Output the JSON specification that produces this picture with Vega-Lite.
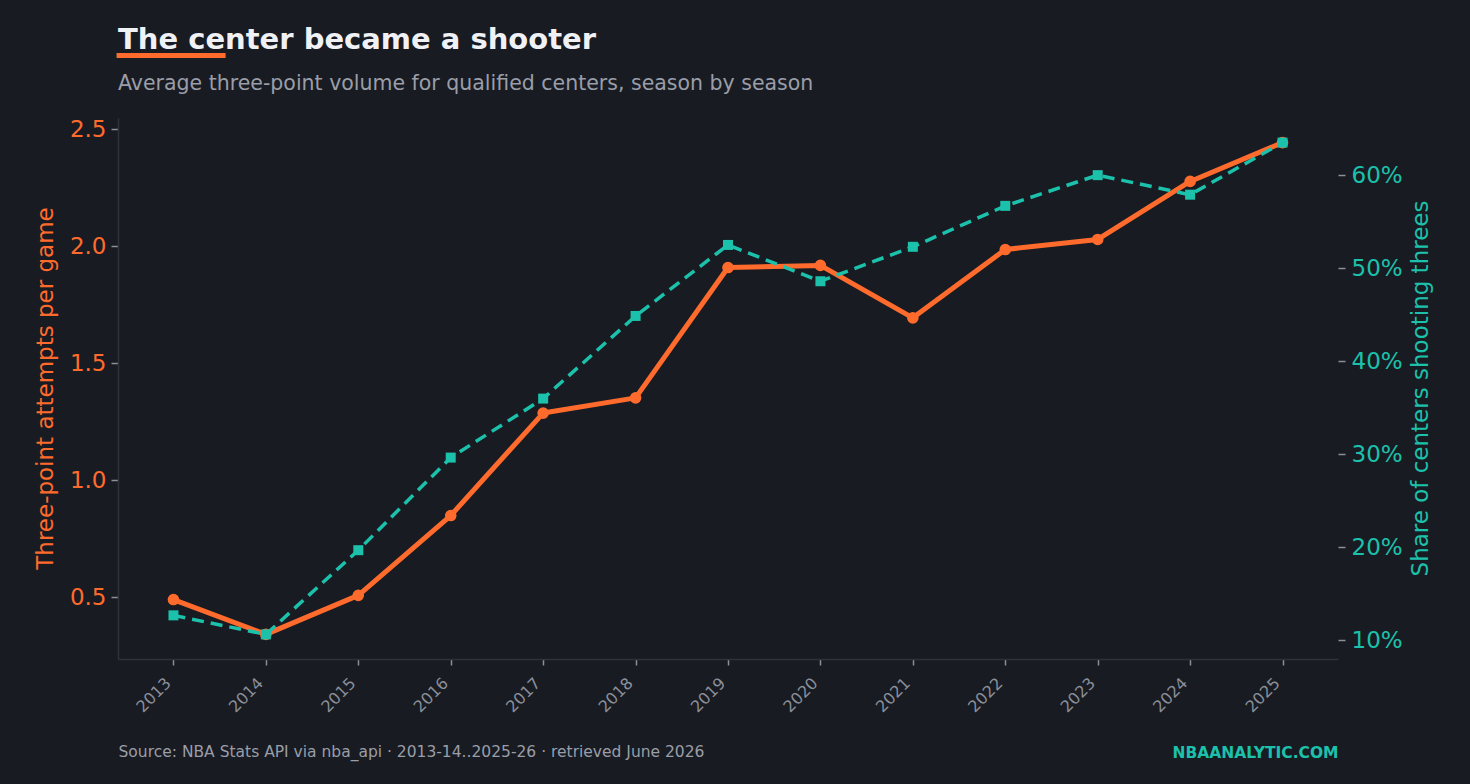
{
  "$schema": "https://vega.github.io/schema/vega-lite/v6.json",
  "width": 1220,
  "height": 541,
  "autosize": {"type": "none"},
  "padding": {"left": 118, "top": 118, "right": 132, "bottom": 125},
  "background": "#181b22",
  "config": {"view": {"stroke": null}, "font": "DejaVu Sans", "axis": {"grid": false}},
  "title": {
    "text": "The center became a shooter",
    "subtitle": "Average three-point volume for qualified centers, season by season",
    "anchor": "start",
    "frame": "group",
    "font": "DejaVu Sans",
    "fontSize": 29,
    "fontWeight": "bold",
    "color": "#f0f1f5",
    "subtitleFont": "DejaVu Sans",
    "subtitleFontSize": 20.5,
    "subtitleColor": "#9a9ea8",
    "subtitlePadding": 19,
    "offset": -53
  },
  "data": {
    "values": [
      {"season": "2013", "fg3a": 0.491, "share": 0.127},
      {"season": "2014", "fg3a": 0.342, "share": 0.1065},
      {"season": "2015", "fg3a": 0.509, "share": 0.197},
      {"season": "2016", "fg3a": 0.85, "share": 0.2965},
      {"season": "2017", "fg3a": 1.288, "share": 0.3599},
      {"season": "2018", "fg3a": 1.353, "share": 0.4487},
      {"season": "2019", "fg3a": 1.91, "share": 0.525},
      {"season": "2020", "fg3a": 1.919, "share": 0.486},
      {"season": "2021", "fg3a": 1.695, "share": 0.523},
      {"season": "2022", "fg3a": 1.987, "share": 0.567},
      {"season": "2023", "fg3a": 2.03, "share": 0.6},
      {"season": "2024", "fg3a": 2.278, "share": 0.579},
      {"season": "2025", "fg3a": 2.444, "share": 0.635}
    ]
  },
  "layer": [
    {
      "encoding": {
        "x": {
          "field": "season",
          "type": "ordinal",
          "scale": {"type": "point", "padding": 0.6},
          "axis": {
            "orient": "bottom",
            "labelAngle": -45,
            "labelAlign": "right",
            "labelBaseline": "bottom",
            "labelColor": "#8b8f99",
            "labelFontSize": 16,
            "labelPadding": 21,
            "tickColor": "#8b8f99",
            "tickSize": 6,
            "tickWidth": 1.5,
            "domainColor": "#2e323b",
            "domainWidth": 1.5,
            "title": "Source: NBA Stats API via nba_api · 2013-14..2025-26 · retrieved June 2026",
            "titleX": 0,
            "titleY": 97,
            "titleAlign": "left",
            "titleAnchor": null,
            "titleBaseline": "alphabetic",
            "titleColor": "#9a9ea8",
            "titleFontSize": 15.5,
            "titleFontWeight": "normal"
          }
        },
        "y": {
          "field": "fg3a",
          "type": "quantitative",
          "scale": {"domain": [0.2369, 2.5491], "nice": false, "zero": false},
          "axis": {
            "orient": "left",
            "values": [0.5, 1.0, 1.5, 2.0, 2.5],
            "format": ".1f",
            "labelColor": "#ff6b2c",
            "labelFontSize": 23,
            "labelPadding": 5,
            "tickColor": "#8b8f99",
            "tickSize": 7,
            "tickWidth": 1.5,
            "domainColor": "#2e323b",
            "domainWidth": 1.5,
            "title": "Three-point attempts per game",
            "titleColor": "#ff6b2c",
            "titleFontSize": 23,
            "titleFontWeight": "normal",
            "titleAngle": -90,
            "titleX": -66,
            "titleY": 270,
            "titleAlign": "center",
            "titleBaseline": "alphabetic"
          }
        }
      },
      "layer": [
        {"mark": {"type": "line", "color": "#ff6b2c", "strokeWidth": 5, "strokeCap": "round", "strokeJoin": "round"}},
        {"mark": {"type": "point", "shape": "circle", "filled": true, "color": "#ff6b2c", "size": 135, "opacity": 1}}
      ]
    },
    {
      "encoding": {
        "y": {
          "field": "share",
          "type": "quantitative",
          "scale": {"domain": [0.0801, 0.6614], "nice": false, "zero": false},
          "axis": {
            "orient": "right",
            "values": [0.1, 0.2, 0.3, 0.4, 0.5, 0.6],
            "format": ".0%",
            "labelColor": "#1cc1ab",
            "labelFontSize": 23,
            "labelPadding": 6,
            "tickColor": "#8b8f99",
            "tickSize": 7,
            "tickWidth": 1.5,
            "domain": false,
            "title": "Share of centers shooting threes",
            "titleColor": "#1cc1ab",
            "titleFontSize": 23,
            "titleFontWeight": "normal",
            "titleAngle": -90,
            "titleX": 89,
            "titleY": 270,
            "titleAlign": "center",
            "titleBaseline": "alphabetic"
          }
        }
      },
      "layer": [
        {
          "encoding": {
            "x": {
              "field": "season",
              "type": "ordinal",
              "scale": {"type": "point", "padding": 0.6},
              "axis": {
                "orient": "top",
                "labels": false,
                "ticks": false,
                "domain": false,
                "title": "NBAANALYTIC.COM",
                "titleX": 1220,
                "titleY": 639,
                "titleAlign": "right",
                "titleAnchor": null,
                "titleBaseline": "alphabetic",
                "titleColor": "#1cc1ab",
                "titleFontSize": 15.5,
                "titleFontWeight": "bold"
              }
            }
          },
          "mark": {"type": "line", "color": "#1cc1ab", "strokeWidth": 3.5, "strokeDash": [12, 7]}
        },
        {
          "encoding": {
            "x": {
              "field": "season",
              "type": "ordinal",
              "scale": {"type": "point", "padding": 0.6},
              "axis": {
                "orient": "top",
                "labels": false,
                "ticks": false,
                "domain": false,
                "title": "━━━━━━",
                "titleX": -2,
                "titleY": -53,
                "titleAlign": "left",
                "titleAnchor": null,
                "titleBaseline": "alphabetic",
                "titleColor": "#ff6b2c",
                "titleFontSize": 30,
                "titleFontWeight": "normal"
              }
            }
          },
          "mark": {"type": "point", "shape": "square", "filled": true, "color": "#1cc1ab", "size": 100, "opacity": 1}
        }
      ],
      "resolve": {"axis": {"x": "independent"}}
    }
  ],
  "resolve": {"scale": {"y": "independent"}, "axis": {"x": "independent", "y": "independent"}}
}
